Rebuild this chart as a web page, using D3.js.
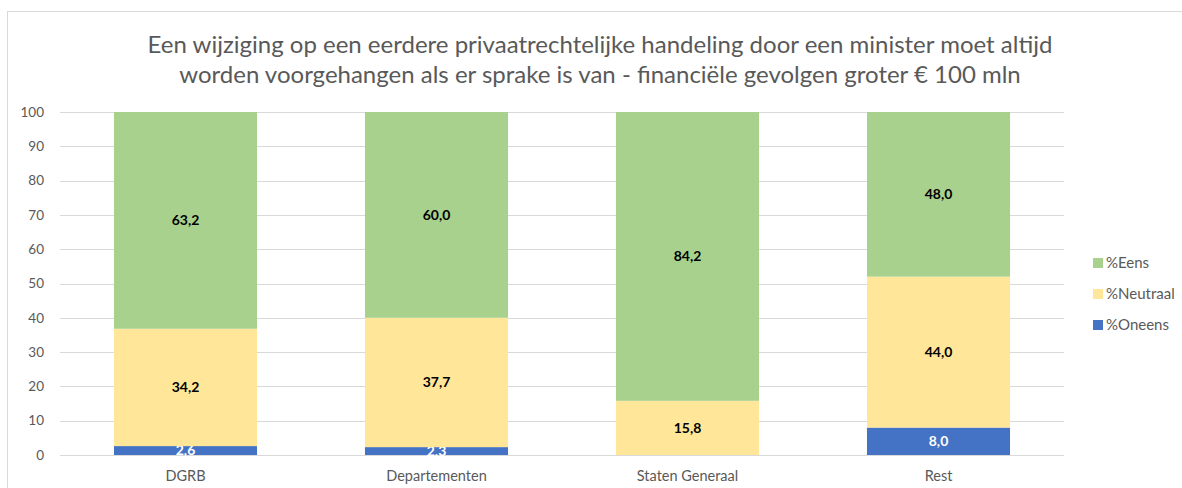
<!DOCTYPE html>
<html><head><meta charset="utf-8">
<script src="https://cdn.jsdelivr.net/npm/d3@7"></script>
<style>body{margin:0;background:#fff}svg{display:block}</style>
</head><body>
<svg id="c" width="1182" height="488"></svg>
<script>
const categories = ["DGRB", "Departementen", "Staten Generaal", "Rest"];
const oneens = [2.6, 2.3, 0, 8.0];
const neutraal = [34.2, 37.7, 15.8, 44.0];
const eens = [63.2, 60.0, 84.2, 48.0];
const seriesNames = ["%Oneens", "%Neutraal", "%Eens"];
const seriesColors = ["#4472C4", "#FFE699", "#A9D18E"];
const labelColors = ["#fff", "#000", "#000"];
const yTicks = [0,10,20,30,40,50,60,70,80,90,100];
const titleLines = ["Een wijziging op een eerdere privaatrechtelijke handeling door een minister moet altijd",
  "worden voorgehangen als er sprake is van - financiële gevolgen groter € 100 mln"];

const svg = d3.select("#c");
const font = "Lato, 'Open Sans', sans-serif";
svg.append("rect").attr("x",7.5).attr("y",11.5).attr("width",1190).attr("height",490)
  .attr("fill","none").attr("stroke","#d9d9d9");

const rows = categories.map((c,i)=>({cat:c, "%Oneens":oneens[i], "%Neutraal":neutraal[i], "%Eens":eens[i]}));
const stack = d3.stack().keys(seriesNames)(rows);

const x = d3.scaleBand().domain(categories).range([60,1064]).paddingInner(0.43).paddingOuter(0.215);
const y = d3.scaleLinear().domain([0,100]).range([455,112]);

// grid
svg.append("g").selectAll("line").data(yTicks).join("line")
  .attr("x1",60).attr("x2",1064).attr("y1",d=>Math.round(y(d))+0.5).attr("y2",d=>Math.round(y(d))+0.5)
  .attr("stroke","#d9d9d9").attr("stroke-width",1);
svg.append("g").selectAll("text").data(yTicks).join("text")
  .attr("x",44).attr("y",d=>y(d)).attr("dy","0.35em").attr("text-anchor","end")
  .attr("font-family",font).attr("font-size",13.5).attr("fill","#595959").text(d=>d);

// bars
stack.forEach((s,si)=>{
  const g = svg.append("g");
  g.selectAll("rect").data(s).join("rect")
    .attr("x",d=>x(d.data.cat)).attr("width",x.bandwidth())
    .attr("y",d=>y(d[1])).attr("height",d=>y(d[0])-y(d[1]))
    .attr("fill",seriesColors[si]);
  g.selectAll("text").data(s.filter(d=>d[1]-d[0]>0)).join("text")
    .attr("x",d=>x(d.data.cat)+x.bandwidth()/2).attr("y",d=>y((d[0]+d[1])/2)).attr("dy","0.35em")
    .attr("text-anchor","middle").attr("font-family",font).attr("font-size",14).attr("font-weight","bold")
    .attr("fill",labelColors[si]).text(d=>(d[1]-d[0]).toFixed(1).replace(".",","));
});

// x labels
svg.append("g").selectAll("text").data(categories).join("text")
  .attr("x",d=>x(d)+x.bandwidth()/2).attr("y",476).attr("dy","0.35em").attr("text-anchor","middle")
  .attr("font-family",font).attr("font-size",14.5).attr("fill","#595959").text(d=>d);

// title
svg.append("g").selectAll("text").data(titleLines).join("text")
  .attr("x",600).attr("y",(d,i)=>45+i*30).attr("dy","0.35em").attr("text-anchor","middle")
  .attr("font-family",font).attr("font-size",24).attr("fill","#595959").text(d=>d);

// legend
const legOrder = [2,1,0];
const lg = svg.append("g");
legOrder.forEach((si,i)=>{
  const yy = 263 + i*31;
  lg.append("rect").attr("x",1093).attr("y",yy-5).attr("width",10).attr("height",10).attr("fill",seriesColors[si]);
  lg.append("text").attr("x",1106).attr("y",yy).attr("dy","0.35em").attr("font-family",font)
    .attr("font-size",15).attr("fill","#595959").text(seriesNames[si]);
});
</script>
</body></html>
